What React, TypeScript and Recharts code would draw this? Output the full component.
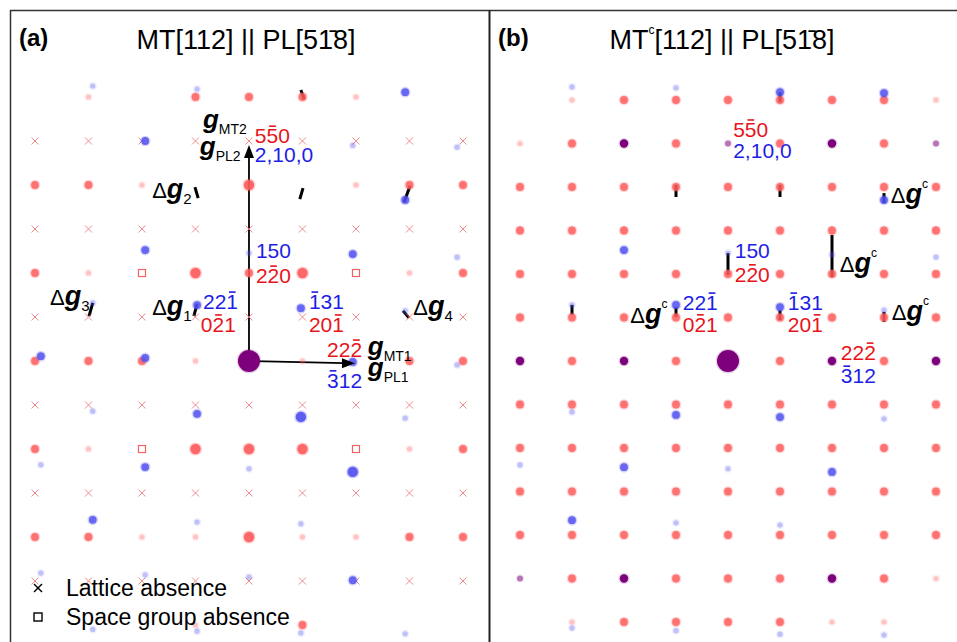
import React from 'react';
import { ScatterChart, Scatter, XAxis, YAxis, ReferenceLine, ReferenceDot } from 'recharts';

const FONT = '"Liberation Sans", Arial, Helvetica, sans-serif';
const RED_TXT = '#e8141c';
const BLUE_TXT = '#1e1ee6';
const RED_SPOT = '#ff5c5c';
const BLUE_SPOT = '#4f4ff0';
const PURPLE = '#7c007c';
const HKL_SIZE = 21;

// reciprocal lattice indices of the MT grid (rows counted in half steps)
const cols = [-4, -3, -2, -1, 0, 1, 2, 3, 4];
const rows = [6, 5, 4, 3, 2, 1, 0, -1, -2, -3, -4, -5, -6];

// panel (a): '.' none, 1 weak, 2 medium, 3 strong, x lattice absence, s space group absence, O transmitted beam
const mtGridA = [
  '.1.2221..',
  'xxxxxxxxx',
  '221.3.122',
  'xxxxxxxxx',
  '21s323s12',
  'xxxxxxxxx',
  '2221O1.22',
  'xxxxxxxxx',
  '21s333s12',
  'xxxxxxxxx',
  '221131122',
  'xxxxxxxxx',
  '...1.2...',
];

// panel (b): P = MT^c and PL coincide, p = weak coincidence
const mtGridB = [
  '.12222221',
  '12P2p2P2p',
  '222222222',
  '222222222',
  '222222222',
  '222222222',
  'P2P2O2P2P',
  '222222222',
  '222222222',
  '222222222',
  '222222222',
  'p2P222P21',
  '.1222211.',
];

// PL spots [col, row, intensity] in the MT frame of each panel
const plSpotsA: number[][] = [
  [-2.92, 6.25, 1], [-0.97, 6.18, 1], [2.92, 6.11, 2],
  [-1.94, 5.0, 2], [1.94, 4.9, 1], [3.89, 4.86, 1],
  [2.92, 3.66, 2],
  [-1.94, 2.52, 2], [0, 2.45, 1], [1.94, 2.43, 2], [3.89, 2.36, 1],
  [-2.92, 1.32, 1], [-0.97, 1.27, 2], [0.97, 1.2, 2], [2.92, 1.14, 1],
  [-3.89, 0.11, 2], [-1.94, 0.07, 2], [1.94, -0.02, 2], [3.89, -0.09, 1],
  [-2.92, -1.14, 1], [-0.97, -1.2, 2], [0.97, -1.27, 3], [2.92, -1.3, 1],
  [-3.89, -2.36, 1], [-1.94, -2.41, 2], [0, -2.45, 1], [1.94, -2.52, 3],
  [-2.92, -3.61, 2], [-0.97, -3.66, 1], [0.97, -3.7, 1],
  [-3.89, -4.82, 1], [-1.94, -4.86, 1], [0, -4.91, 1], [1.94, -4.98, 2],
  [-2.92, -6.1, 1], [-0.97, -6.14, 1], [0.97, -6.18, 1], [2.92, -6.2, 1],
];

const plSpotsB: number[][] = [
  [-3, 6.3, 1], [-1, 6.28, 1], [1, 6.18, 2], [3, 6.16, 2],
  [3, 3.7, 2],
  [-2, 2.55, 2], [0, 2.48, 1], [2, 2.44, 1], [4, 2.39, 1],
  [-3, 1.29, 1], [-1, 1.29, 2], [1, 1.24, 2], [3, 1.17, 1],
  [-3, -1.17, 1], [-1, -1.24, 2], [1, -1.29, 2], [3, -1.33, 1],
  [-4, -2.39, 1], [-2, -2.44, 2], [0, -2.48, 1], [2, -2.55, 2],
  [-3, -3.66, 2], [-1, -3.72, 1], [1, -3.77, 1],
  [-3, -6.14, 1], [-1, -6.2, 1], [1, -6.28, 1], [3, -6.3, 1],
];

// indexed reflections, '-' marks an overbar on the next digit
const mtLabelsA = [
  { x: 0.11, y: 4.95, t: '5-50' }, { x: 0.13, y: 1.77, t: '2-20' },
  { x: -0.9, y: 0.66, t: '0-21' }, { x: 1.12, y: 0.66, t: '20-1' }, { x: 1.46, y: 0.09, t: '22-2' },
];
const plLabelsA = [
  { x: 0.11, y: 4.52, t: '2,10,0' }, { x: 0.13, y: 2.34, t: '150' },
  { x: -0.86, y: 1.18, t: '22-1' }, { x: 1.12, y: 1.18, t: '-131' }, { x: 1.46, y: -0.61, t: '-312' },
];
const mtLabelsB = [
  { x: 0.1, y: 5.15, t: '5-50' }, { x: 0.13, y: 1.82, t: '2-20' },
  { x: -0.87, y: 0.67, t: '0-21' }, { x: 1.15, y: 0.67, t: '20-1' }, { x: 2.17, y: 0.02, t: '22-2' },
];
const plLabelsB = [
  { x: 0.1, y: 4.67, t: '2,10,0' }, { x: 0.13, y: 2.37, t: '150' },
  { x: -0.87, y: 1.17, t: '22-1' }, { x: 1.15, y: 1.17, t: '-131' }, { x: 2.17, y: -0.51, t: '-312' },
];

const gLabelsA = [
  { x: -0.86, y: 5.3, sub: 'MT2' }, { x: -0.92, y: 4.68, sub: 'PL2' },
  { x: 2.22, y: 0.14, sub: 'MT1' }, { x: 2.22, y: -0.34, sub: 'PL1' },
];
const dgLabelsA = [
  { x: -1.81, y: 3.7, sub: '2' }, { x: -3.72, y: 1.27, sub: '3' },
  { x: -1.81, y: 1.05, sub: '1' }, { x: 3.07, y: 1.05, sub: '4' },
];
const dgLabelsB = [
  { x: 3.13, y: 3.63, sub: 'c' }, { x: 2.15, y: 2.05, sub: 'c' },
  { x: -1.88, y: 0.87, sub: 'c' }, { x: 3.15, y: 0.94, sub: 'c' },
];

// Δg vectors: [x1, y1, x2, y2]
const dgTicksA = [
  [0.97, 6.16, 1.03, 5.95], [-1.01, 3.95, -0.95, 3.7], [1.01, 3.93, 0.95, 3.68],
  [3.01, 3.98, 2.9, 3.61], [-2.92, 1.32, -2.99, 1.02], [-0.97, 1.3, -1.03, 1.02],
  [2.88, 1.14, 2.99, 0.98],
];
const dgTicksB = [
  [1, 6.18, 1, 5.95], [-1, 4.05, -1, 3.77], [1, 4.05, 1, 3.77], [3, 3.86, 3, 3.63],
  [0, 2.48, 0, 1.98], [2, 2.9, 2, 1.93], [-3, 1.29, -3, 1.06], [-1, 1.24, -1, 1.01],
  [1, 1.17, 1, 0.94], [3, 1.13, 3, 0.9],
];
// g vectors of panel (a), from the origin
const gVectorsA = [
  { x: 0, y: 4.91, dir: 'up' },
  { x: 1.98, y: -0.05, dir: 'right' },
];

const gridPoints = (grid: string[]) => {
  const out: { x: number; y: number; code: string }[] = [];
  grid.forEach((line, i) =>
    line.split('').forEach((c, j) => {
      if (c !== '.') out.push({ x: cols[j], y: rows[i], code: c });
    })
  );
  return out;
};

const LEVEL: Record<string, { r: number; a: number }> = {
  '1': { r: 2.6, a: 0.3 },
  '2': { r: 3.9, a: 0.82 },
  '3': { r: 5.2, a: 0.9 },
};

const Spot = (color: string) => (p: any) => {
  const lv = LEVEL[String(p.payload.level ?? p.payload.code)] || LEVEL['2'];
  return (
    <g>
      <circle cx={p.cx} cy={p.cy} r={lv.r + 1.4} fill={color} opacity={lv.a * 0.3} />
      <circle cx={p.cx} cy={p.cy} r={lv.r} fill={color} opacity={lv.a} />
    </g>
  );
};

const PurpleSpot = (p: any) => {
  const code = p.payload.code;
  const r = code === 'O' ? 11 : code === 'P' ? 4.2 : 3;
  const a = code === 'p' ? 0.5 : 1;
  return (
    <g>
      <circle cx={p.cx} cy={p.cy} r={r + 1.3} fill={PURPLE} opacity={0.18 * a} />
      <circle cx={p.cx} cy={p.cy} r={r} fill={PURPLE} opacity={a} />
    </g>
  );
};

const CrossMark = (p: any) => (
  <g stroke="#f07878" strokeWidth={1} opacity={0.85}>
    <line x1={p.cx - 3.5} y1={p.cy - 3.5} x2={p.cx + 3.5} y2={p.cy + 3.5} />
    <line x1={p.cx - 3.5} y1={p.cy + 3.5} x2={p.cx + 3.5} y2={p.cy - 3.5} />
  </g>
);

const SquareMark = (p: any) => (
  <rect x={p.cx - 3.5} y={p.cy - 3.5} width={7} height={7} fill="none" stroke="#f06464" strokeWidth={1.2} />
);

const parseHkl = (s: string) => {
  const segs: { t: string; bar: boolean }[] = [];
  for (let i = 0; i < s.length; i++) {
    if (s[i] === '-') {
      segs.push({ t: s[i + 1], bar: true });
      i++;
    } else segs.push({ t: s[i], bar: false });
  }
  return segs;
};

// digits are 0.556 em wide in Arial/Liberation Sans, the comma 0.278 em
const HklText = (color: string) => (p: any) => {
  const segs = parseHkl(p.payload.t);
  let off = 0;
  const bars: React.ReactNode[] = [];
  segs.forEach((s, i) => {
    const w = (s.t === ',' ? 0.278 : 0.556) * HKL_SIZE;
    if (s.bar)
      bars.push(
        <line key={i} x1={p.cx + off + 2.6} x2={p.cx + off + w - 2.4} y1={p.cy - 17} y2={p.cy - 17} stroke={color} strokeWidth={1.6} />
      );
    off += w;
  });
  return (
    <g>
      <text x={p.cx} y={p.cy} fill={color} fontSize={HKL_SIZE} fontFamily={FONT}>
        {segs.map((s) => s.t).join('')}
      </text>
      {bars}
    </g>
  );
};

const GText = (p: any) => (
  <text x={p.cx} y={p.cy} fill="#000" fontFamily={FONT}>
    <tspan fontSize={26} fontWeight="bold" fontStyle="italic">g</tspan>
    <tspan fontSize={14} dy={6}>{p.payload.sub}</tspan>
  </text>
);

const DgText = (p: any) => {
  const sup = p.payload.sub === 'c';
  return (
    <text x={p.cx} y={p.cy} fill="#000" fontFamily={FONT}>
      <tspan fontSize={22}>Δ</tspan>
      <tspan fontSize={27} fontWeight="bold" fontStyle="italic">g</tspan>
      <tspan fontSize={sup ? 12 : 15} dy={sup ? -15 : 6}>{p.payload.sub}</tspan>
    </text>
  );
};

const Arrowhead = (dir: string) => (p: any) => {
  const { cx, cy } = p;
  const pts =
    dir === 'up'
      ? `${cx},${cy} ${cx - 5},${cy + 13} ${cx + 5},${cy + 13}`
      : `${cx},${cy} ${cx - 13},${cy - 5} ${cx - 13},${cy + 5}`;
  return <polygon points={pts} fill="#000" />;
};

type PanelProps = {
  left: number;
  width: number;
  xDomain: [number, number];
  yDomain: [number, number];
  grid: string[];
  pl: number[][];
  mtLabels: { x: number; y: number; t: string }[];
  plLabels: { x: number; y: number; t: string }[];
  dgLabels: { x: number; y: number; sub: string }[];
  ticks: number[][];
  gLabels?: { x: number; y: number; sub: string }[];
  vectors?: { x: number; y: number; dir: string }[];
};

function Panel(props: PanelProps) {
  const pts = gridPoints(props.grid);
  const red = pts.filter((d) => '123'.includes(d.code));
  const crosses = pts.filter((d) => d.code === 'x');
  const squares = pts.filter((d) => d.code === 's');
  const purple = pts.filter((d) => 'OPp'.includes(d.code));
  const pl = props.pl.map(([x, y, level]) => ({ x, y, level }));
  return (
    <div style={{ position: 'absolute', left: props.left, top: 10 }}>
      <ScatterChart width={props.width} height={632} margin={{ top: 0, right: 0, bottom: 0, left: 0 }}>
        <XAxis type="number" dataKey="x" domain={props.xDomain} allowDataOverflow hide />
        <YAxis type="number" dataKey="y" domain={props.yDomain} allowDataOverflow hide />
        <Scatter data={crosses} shape={CrossMark} isAnimationActive={false} />
        <Scatter data={squares} shape={SquareMark} isAnimationActive={false} />
        <Scatter data={red} shape={Spot(RED_SPOT)} isAnimationActive={false} />
        <Scatter data={pl} shape={Spot(BLUE_SPOT)} isAnimationActive={false} />
        <Scatter data={purple} shape={PurpleSpot} isAnimationActive={false} />
        {(props.vectors || []).map((v, i) => (
          <ReferenceLine
            key={'v' + i}
            segment={[{ x: 0, y: 0 }, { x: v.dir === 'up' ? 0 : v.x - 0.2, y: v.dir === 'up' ? v.y - 0.25 : v.y }]}
            stroke="#000"
            strokeWidth={1.8}
            ifOverflow="visible"
          />
        ))}
        {(props.vectors || []).map((v, i) => (
          <ReferenceDot key={'h' + i} x={v.x} y={v.y} shape={Arrowhead(v.dir)} ifOverflow="visible" />
        ))}
        {props.ticks.map((t, i) => (
          <ReferenceLine
            key={'t' + i}
            segment={[{ x: t[0], y: t[1] }, { x: t[2], y: t[3] }]}
            stroke="#000"
            strokeWidth={3}
            ifOverflow="visible"
          />
        ))}
        <Scatter data={props.mtLabels} shape={HklText(RED_TXT)} isAnimationActive={false} />
        <Scatter data={props.plLabels} shape={HklText(BLUE_TXT)} isAnimationActive={false} />
        <Scatter data={props.dgLabels} shape={DgText} isAnimationActive={false} />
        {props.gLabels && <Scatter data={props.gLabels} shape={GText} isAnimationActive={false} />}
      </ScatterChart>
    </div>
  );
}

export default function App() {
  return (
    <div style={{ position: 'absolute', left: 0, top: 0, width: 957, height: 642, background: '#fff', overflow: 'hidden' }}>
      <Panel
        left={10}
        width={480}
        xDomain={[-4.467, 4.505]}
        yDomain={[-6.386, 7.977]}
        grid={mtGridA}
        pl={plSpotsA}
        mtLabels={mtLabelsA}
        plLabels={plLabelsA}
        dgLabels={dgLabelsA}
        ticks={dgTicksA}
        gLabels={gLabelsA}
        vectors={gVectorsA}
      />
      <Panel
        left={490}
        width={467}
        xDomain={[-4.577, 4.404]}
        yDomain={[-6.46, 8.069]}
        grid={mtGridB}
        pl={plSpotsB}
        mtLabels={mtLabelsB}
        plLabels={plLabelsB}
        dgLabels={dgLabelsB}
        ticks={dgTicksB}
      />
      <svg width={957} height={642} style={{ position: 'absolute', left: 0, top: 0, pointerEvents: 'none' }} fontFamily={FONT}>
        <line x1={10.5} y1={10} x2={10.5} y2={642} stroke="#333" strokeWidth={1.5} />
        <line x1={10} y1={10.5} x2={957} y2={10.5} stroke="#333" strokeWidth={1.5} />
        <line x1={489.5} y1={10} x2={489.5} y2={642} stroke="#222" strokeWidth={2} />
        <text x={19} y={46} fontSize={24} fontWeight="bold">(a)</text>
        <text x={246} y={49} fontSize={27} textAnchor="middle">
          MT[112] || PL[51̄8]
        </text>
        <text x={498} y={46} fontSize={24} fontWeight="bold">(b)</text>
        <text x={722} y={49} fontSize={27} textAnchor="middle">
          MT<tspan fontSize={12} dy={-15}>c</tspan>
          <tspan dy={15}>[112] || PL[51̄8]</tspan>
        </text>
        <g stroke="#000" strokeWidth={1.4}>
          <line x1={34} y1={584} x2={42} y2={592} />
          <line x1={34} y1={592} x2={42} y2={584} />
          <rect x={34} y={613} width={8} height={8} fill="none" />
        </g>
        <text x={66} y={596} fontSize={23}>Lattice absence</text>
        <text x={66} y={625} fontSize={23}>Space group absence</text>
      </svg>
    </div>
  );
}
